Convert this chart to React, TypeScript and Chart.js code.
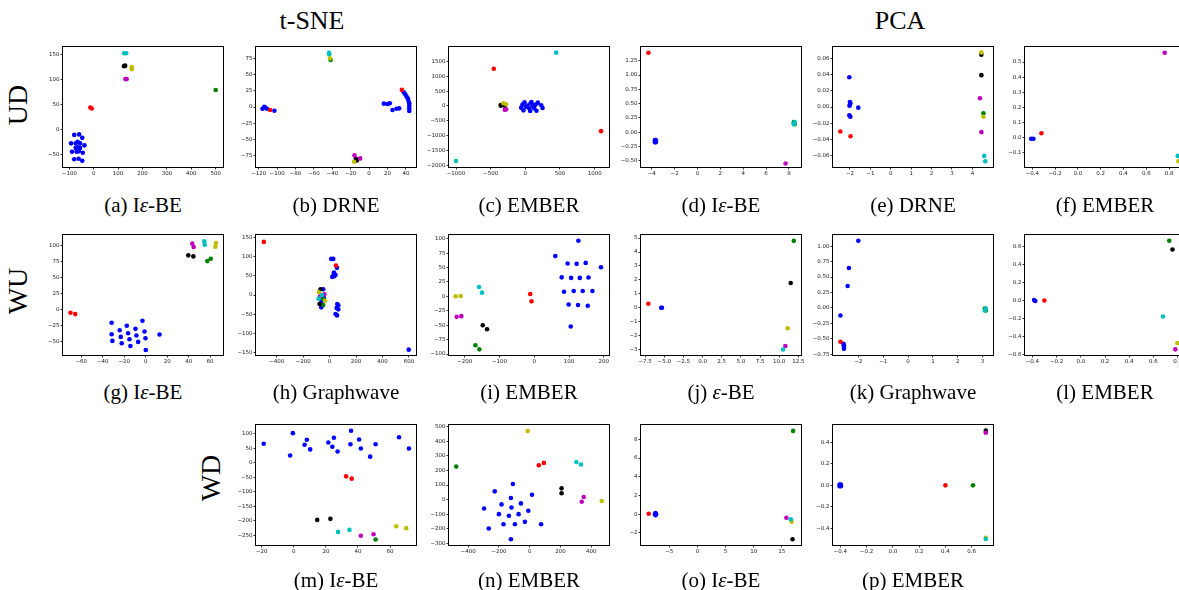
import React, { useEffect, useRef } from "react";
import { Chart, registerables } from "chart.js";
Chart.register(...registerables);

type P = [number, number];

// ---------- (a) t-SNE UD Iε-BE ----------
const aXTicks = [-100, 0, 100, 200, 300, 400, 500];
const aYTicks = [-50, 0, 50, 100, 150];
const aBlue: P[] = [[-80, -11], [-60, -10], [-47, -17], [-93, -28], [-74, -28], [-66, -25], [-56, -28], [-38, -32], [-74, -37], [-66, -36], [-56, -37], [-89, -45], [-70, -45], [-61, -44], [-45, -47], [-80, -60], [-62, -59], [-47, -63], [-70, -40], [-60, -40]];
const aRed: P[] = [[-14, 44], [-8, 42]];
const aCyan: P[] = [[125, 153], [133, 153]];
const aBlack: P[] = [[124, 127], [129, 128]];
const aYellow: P[] = [[156, 125], [156, 121]];
const aMagenta: P[] = [[130, 101], [135, 101]];
const aGreen: P[] = [[500, 79]];

// ---------- (b) t-SNE UD DRNE ----------
const bXTicks = [-120, -100, -80, -60, -40, -20, 0, 20, 40];
const bYTicks = [-75, -50, -25, 0, 25, 50, 75];
const bBlue: P[] = [[-114, 0.5], [-111, -2.6], [-116, -2.6], [-113, -1], [-103, -5.7], [16, 5.2], [20, 4.7], [22.5, 5.7], [25.4, -4.7], [29.8, -2.6], [32.7, -2.1], [37.8, 22.9], [39.3, 19.8], [40.7, 16.1], [42.2, 13], [42.9, 9.4], [43.7, 5.7], [43.7, 2.1], [43.7, -2.1], [43.7, -6.3]];
const bRed: P[] = [[-107.6, -4.7], [35.6, 26.6]];
const bCyan: P[] = [[-43.6, 83.9], [-43.4, 81.8]];
const bYellow: P[] = [[-42.6, 75.5], [-16.3, -84.9]];
const bGreen: P[] = [[-41.8, 72.9]];
const bMagenta: P[] = [[-15.9, -75], [-9.7, -79.7]];
const bBlack: P[] = [[-14.4, -80.2], [-13.3, -82.8]];

// ---------- (c) t-SNE UD EMBER ----------
const cXTicks = [-1000, -500, 0, 500, 1000];
const cYTicks = [-2000, -1500, -1000, -500, 0, 500, 1000, 1500];
const cBlue: P[] = [[-60, -58], [-41, 44], [-12, 123], [-27, -148], [27, 10], [55, -81], [75, 89], [89, 134], [104, 10], [70, -171], [128, -81], [147, 44], [181, 111], [161, -160], [229, 21], [248, -69], [10, -30], [120, 20]];
const cCyan: P[] = [[446, 1794], [-1000, -1853]];
const cRed: P[] = [[-455, 1252], [1092, -848]];
const cBlack: P[] = [[-354, 32], [-354, 10], [-296, 10]];
const cYellow: P[] = [[-316, 89], [-277, 55]];
const cMagenta: P[] = [[-296, -126], [-277, -115]];

// ---------- (d) PCA UD Iε-BE ----------
const dXTicks = [-4, -2, 0, 2, 4, 6, 8];
const dYTicks = [-0.5, -0.25, 0, 0.25, 0.5, 0.75, 1, 1.25];
const dRed: P[] = [[-4.29, 1.39]];
const dBlue: P[] = [[-3.72, -0.14], [-3.64, -0.14], [-3.72, -0.175], [-3.64, -0.175]];
const dGreen: P[] = [[8.43, 0.175], [8.51, 0.14]];
const dCyan: P[] = [[8.51, 0.175], [8.43, 0.14]];
const dMagenta: P[] = [[7.71, -0.55]];

// ---------- (e) PCA UD DRNE ----------
const eXTicks = [-2, -1, 0, 1, 2, 3, 4];
const eYTicks = [-0.06, -0.04, -0.02, 0, 0.02, 0.04, 0.06];
const eBlue: P[] = [[-2.03, 0.037], [-2, 0.0062], [-1.98, 0.0046], [-2, 0.0029], [-2.02, 0.0017], [-1.59, -0.0008], [-2.03, -0.0104], [-1.98, -0.012]];
const eRed: P[] = [[-2.47, -0.0304], [-1.97, -0.0363]];
const eYellow: P[] = [[4.44, 0.0679], [4.54, -0.0121]];
const eBlack: P[] = [[4.44, 0.065], [4.44, 0.0396]];
const eMagenta: P[] = [[4.37, 0.0108], [4.44, -0.0313]];
const eGreen: P[] = [[4.54, -0.0079]];
const eCyan: P[] = [[4.58, -0.0608], [4.63, -0.0675]];

// ---------- (f) PCA UD EMBER ----------
const fXTicks = [-0.4, -0.2, 0, 0.2, 0.4, 0.6, 0.8];
const fYTicks = [-0.1, 0, 0.1, 0.2, 0.3, 0.4, 0.5];
const fBlue: P[] = [[-0.41, -0.009], [-0.39, -0.009]];
const fRed: P[] = [[-0.32, 0.028]];
const fMagenta: P[] = [[0.762, 0.562]];
const fCyan: P[] = [[0.876, -0.122]];
const fYellow: P[] = [[0.882, -0.158]];

// ---------- (g) t-SNE WU Iε-BE ----------
const gXTicks = [-60, -40, -20, 0, 20, 40, 60];
const gYTicks = [-50, -25, 0, 25, 50, 75, 100];
const gBlue: P[] = [[-31.7, -20.3], [-3, -17.2], [-17.6, -25], [-9.5, -29.7], [-24.2, -31.8], [-31.7, -38], [-16.4, -36.5], [-8.6, -40.1], [-1.1, -33.9], [-23.2, -42.2], [-15.1, -45.8], [-31, -48.4], [-7, -50], [-22.3, -52.1], [-14.2, -56.3], [-0.2, -44.3], [12.9, -38.5], [0.1, -62.5]];
const gRed: P[] = [[-70, -4.7], [-65.6, -6.8]];
const gMagenta: P[] = [[43.4, 102.6], [44.7, 97.4]];
const gCyan: P[] = [[54.6, 106.3], [55, 101]];
const gYellow: P[] = [[65.5, 103.6], [64.9, 97.9]];
const gBlack: P[] = [[39.7, 84.4], [44.4, 82.8]];
const gGreen: P[] = [[57.4, 75.5], [60.6, 79.2]];

// ---------- (h) t-SNE WU Graphwave ----------
const hXTicks = [-400, -200, 0, 200, 400, 600];
const hYTicks = [-150, -100, -50, 0, 50, 100, 150];
const hRed: P[] = [[-497, 139], [48, 77]];
const hBlue: P[] = [[598, -143], [12.6, 94.5], [27.8, 94.5], [55.6, 71], [33, 58.6], [40, 53.3], [28, 50.7], [20, 47.2], [35, 49], [45, 52.5], [58, -23.6], [66, -27], [53, -34], [66, -37.6], [45, -49.8], [56, -53.4], [-48, 15], [-60, -16.6], [-63, -32.3], [-43, -8]];
const hBlack: P[] = [[-68, 15], [-76, -23.6]];
const hYellow: P[] = [[-81, 7], [-35, -15]];
const hMagenta: P[] = [[-40, 1.7], [-73, -4]];
const hCyan: P[] = [[-58, 0], [-83, -9.6]];
const hGreen: P[] = [[-48, -10.5], [-48, -26]];

// ---------- (i) t-SNE WU EMBER ----------
const iXTicks = [-200, -100, 0, 100, 200];
const iYTicks = [-100, -75, -50, -25, 0, 25, 50, 75, 100];
const iYellow: P[] = [[-226, 0], [-211.5, 0.6]];
const iCyan: P[] = [[-158.6, 16.3], [-150, 6.4]];
const iMagenta: P[] = [[-223, -35.5], [-209.6, -34.3]];
const iBlack: P[] = [[-148, -50], [-135.6, -57]];
const iGreen: P[] = [[-169, -84.9], [-157.7, -91.9]];
const iRed: P[] = [[-11.5, 4], [-7.7, -8.7]];
const iBlue: P[] = [[127, 96.5], [60.6, 69.8], [96, 57], [122, 56.4], [148, 58], [192, 50.6], [79, 33], [106, 32], [131, 32], [156, 32.6], [85.6, 8.1], [113.5, 9.3], [139.4, 9.3], [167.3, 9.3], [99, -14], [126, -15], [154, -16.3], [105, -52.3]];

// ---------- (j) PCA WU ε-BE ----------
const jXTicks = [-7.5, -5, -2.5, 0, 2.5, 5, 7.5, 10, 12.5];
const jYTicks = [-3, -2, -1, 0, 1, 2, 3, 4, 5];
const jRed: P[] = [[-7.07, 0.29]];
const jBlue: P[] = [[-5.4, 0], [-5.3, 0]];
const jGreen: P[] = [[11.9, 4.8]];
const jBlack: P[] = [[11.5, 1.78]];
const jYellow: P[] = [[11.1, -1.47]];
const jMagenta: P[] = [[10.8, -2.74]];
const jCyan: P[] = [[10.5, -3.0]];

// ---------- (k) PCA WU Graphwave ----------
const kXTicks = [-2, -1, 0, 1, 2, 3];
const kYTicks = [-0.75, -0.5, -0.25, 0, 0.25, 0.5, 0.75, 1];
const kBlue: P[] = [[-2, 1.087], [-2.38, 0.647], [-2.43, 0.355], [-2.72, -0.122], [-2.58, -0.603], [-2.58, -0.63], [-2.58, -0.66], [-2.6, -0.58]];
const kRed: P[] = [[-2.72, -0.545]];
const kGreen: P[] = [[3.09, -0.01], [3.13, -0.04]];
const kCyan: P[] = [[3.13, -0.01], [3.09, -0.04]];

// ---------- (l) PCA WU EMBER ----------
const lXTicks = [-0.4, -0.2, 0, 0.2, 0.4, 0.6, 0.8];
const lYTicks = [-0.6, -0.4, -0.2, 0, 0.2, 0.4, 0.6];
const lBlue: P[] = [[-0.385, 0.005], [-0.375, -0.005]];
const lRed: P[] = [[-0.3, 0]];
const lGreen: P[] = [[0.73, 0.667]];
const lBlack: P[] = [[0.757, 0.57]];
const lCyan: P[] = [[0.678, -0.178]];
const lYellow: P[] = [[0.797, -0.473]];
const lMagenta: P[] = [[0.78, -0.544]];

// ---------- (m) t-SNE WD Iε-BE ----------
const mXTicks = [-20, 0, 20, 40, 60];
const mYTicks = [-250, -200, -150, -100, -50, 0, 50, 100];
const mBlue: P[] = [[-18.8, 65.4], [-0.6, 102], [-2.3, 25], [6.7, 62], [8.1, 79], [10.2, 46], [21.5, 70], [24, 55], [25, 86], [27.3, 39], [35.7, 110], [35.3, 64], [40.7, 80], [41.8, 49], [47.6, 21], [51, 64], [65.6, 88], [71.8, 49]];
const mRed: P[] = [[32.6, -46.7], [36.1, -54.7]];
const mBlack: P[] = [[14.6, -196.6], [22.8, -193]];
const mCyan: P[] = [[27.6, -238], [34.7, -231]];
const mMagenta: P[] = [[41.8, -251], [49.7, -246]];
const mGreen: P[] = [[51, -264]];
const mYellow: P[] = [[63.9, -218.5], [70.1, -225]];

// ---------- (n) t-SNE WD EMBER ----------
const nXTicks = [-400, -200, 0, 200, 400];
const nYTicks = [-300, -200, -100, 0, 100, 200, 300, 400, 500];
const nBlue: P[] = [[-109, 107], [-227, 56.5], [15, 33.5], [-122, 10.6], [-183, -33], [-57, -26], [-296, -60.6], [-118, -53.7], [-9, -76.7], [-200, -99.7], [-135, -111], [-72, -99.7], [-31, -152.5], [-170, -168.6], [-96, -168.6], [74, -168.6], [-266, -198.4], [-122, -272]];
const nYellow: P[] = [[-13, 470], [468, -10]];
const nGreen: P[] = [[-477, 226]];
const nRed: P[] = [[59, 235.5], [92, 251.5]];
const nCyan: P[] = [[303, 258], [333, 240]];
const nBlack: P[] = [[207, 77], [207, 43]];
const nMagenta: P[] = [[351, 17.5], [338, -14.7]];

// ---------- (o) PCA WD Iε-BE ----------
const oXTicks = [-5, 0, 5, 10, 15];
const oYTicks = [-2, 0, 2, 4, 6, 8];
const oRed: P[] = [[-8.67, 0.04]];
const oBlue: P[] = [[-7.55, 0], [-7.35, 0], [-7.45, 0.12], [-7.45, -0.12]];
const oGreen: P[] = [[17, 8.9]];
const oMagenta: P[] = [[15.8, -0.39]];
const oCyan: P[] = [[16.6, -0.54]];
const oYellow: P[] = [[16.75, -0.82]];
const oBlack: P[] = [[16.9, -2.69]];

// ---------- (p) PCA WD EMBER ----------
const pXTicks = [-0.4, -0.2, 0, 0.2, 0.4, 0.6];
const pYTicks = [-0.4, -0.2, 0, 0.2, 0.4];
const pBlue: P[] = [[-0.405, 0.008], [-0.395, 0.008], [-0.405, -0.008], [-0.395, -0.008]];
const pRed: P[] = [[0.4, 0]];
const pGreen: P[] = [[0.61, 0]];
const pBlack: P[] = [[0.707, 0.51]];
const pMagenta: P[] = [[0.707, 0.49]];
const pYellow: P[] = [[0.707, -0.49]];
const pCyan: P[] = [[0.707, -0.5]];

// ---------- style ----------
const COLORS: Record<string, string> = {
  b: "#0000ff", r: "#ff0000", g: "#008000", c: "#00bfbf",
  m: "#bf00bf", y: "#bfbf00", k: "#000000",
};
const STACK = ["c", "m", "y", "k", "g", "r", "b"]; // top -> bottom

type Series = Partial<Record<string, P[]>>;
interface PanelCfg {
  col: number; row: number;
  xlim: [number, number]; ylim: [number, number];
  xt: number[]; yt: number[]; xd: number; yd: number;
  s: Series;
}

const COL_LEFT = [63, 256, 449, 641, 833, 1025];
const ROW_TOP = [47, 235, 425];
const BOX_W = 160;
const BOX_H = 120;

const PANELS: PanelCfg[] = [
  { col: 0, row: 0, xlim: [-126, 530], ylim: [-75.5, 165.5], xt: aXTicks, yt: aYTicks, xd: 0, yd: 0,
    s: { b: aBlue, r: aRed, c: aCyan, k: aBlack, y: aYellow, m: aMagenta, g: aGreen } },
  { col: 1, row: 0, xlim: [-123, 51], ylim: [-93, 93], xt: bXTicks, yt: bYTicks, xd: 0, yd: 0,
    s: { b: bBlue, r: bRed, c: bCyan, y: bYellow, g: bGreen, m: bMagenta, k: bBlack } },
  { col: 2, row: 0, xlim: [-1101, 1207], ylim: [-2056, 1985], xt: cXTicks, yt: cYTicks, xd: 0, yd: 0,
    s: { b: cBlue, c: cCyan, r: cRed, k: cBlack, y: cYellow, m: cMagenta } },
  { col: 3, row: 0, xlim: [-4.94, 9.06], ylim: [-0.61, 1.49], xt: dXTicks, yt: dYTicks, xd: 0, yd: 2,
    s: { r: dRed, b: dBlue, g: dGreen, c: dCyan, m: dMagenta } },
  { col: 4, row: 0, xlim: [-2.83, 5.01], ylim: [-0.0746, 0.0746], xt: eXTicks, yt: eYTicks, xd: 0, yd: 2,
    s: { b: eBlue, r: eRed, y: eYellow, k: eBlack, m: eMagenta, g: eGreen, c: eCyan } },
  { col: 5, row: 0, xlim: [-0.464, 0.94], ylim: [-0.196, 0.6], xt: fXTicks, yt: fYTicks, xd: 1, yd: 1,
    s: { b: fBlue, r: fRed, m: fMagenta, c: fCyan, y: fYellow } },
  { col: 0, row: 1, xlim: [-77, 72], ylim: [-70.3, 116], xt: gXTicks, yt: gYTicks, xd: 0, yd: 0,
    s: { b: gBlue, r: gRed, m: gMagenta, c: gCyan, y: gYellow, k: gBlack, g: gGreen } },
  { col: 1, row: 1, xlim: [-556, 653], ylim: [-157, 157], xt: hXTicks, yt: hYTicks, xd: 0, yd: 0,
    s: { r: hRed, b: hBlue, k: hBlack, y: hYellow, m: hMagenta, c: hCyan, g: hGreen } },
  { col: 2, row: 1, xlim: [-245, 215], ylim: [-101.7, 106.4], xt: iXTicks, yt: iYTicks, xd: 0, yd: 0,
    s: { y: iYellow, c: iCyan, m: iMagenta, k: iBlack, g: iGreen, r: iRed, b: iBlue } },
  { col: 3, row: 1, xlim: [-8.03, 12.84], ylim: [-3.39, 5.22], xt: jXTicks, yt: jYTicks, xd: 1, yd: 0,
    s: { r: jRed, b: jBlue, g: jGreen, k: jBlack, y: jYellow, m: jMagenta, c: jCyan } },
  { col: 4, row: 1, xlim: [-3.02, 3.42], ylim: [-0.76, 1.18], xt: kXTicks, yt: kYTicks, xd: 0, yd: 2,
    s: { b: kBlue, r: kRed, g: kGreen, c: kCyan } },
  { col: 5, row: 1, xlim: [-0.46, 0.86], ylim: [-0.607, 0.731], xt: lXTicks, yt: lYTicks, xd: 1, yd: 1,
    s: { b: lBlue, r: lRed, g: lGreen, k: lBlack, c: lCyan, y: lYellow, m: lMagenta } },
  { col: 1, row: 2, xlim: [-23.6, 76.2], ylim: [-283, 130], xt: mXTicks, yt: mYTicks, xd: 0, yd: 0,
    s: { b: mBlue, r: mRed, k: mBlack, c: mCyan, m: mMagenta, g: mGreen, y: mYellow } },
  { col: 2, row: 2, xlim: [-524, 515], ylim: [-311, 511], xt: nXTicks, yt: nYTicks, xd: 0, yd: 0,
    s: { b: nBlue, y: nYellow, g: nGreen, r: nRed, c: nCyan, k: nBlack, m: nMagenta } },
  { col: 3, row: 2, xlim: [-10.03, 18.4], ylim: [-3.3, 9.53], xt: oXTicks, yt: oYTicks, xd: 0, yd: 0,
    s: { r: oRed, b: oBlue, g: oGreen, m: oMagenta, c: oCyan, y: oYellow, k: oBlack } },
  { col: 4, row: 2, xlim: [-0.455, 0.762], ylim: [-0.556, 0.5625], xt: pXTicks, yt: pYTicks, xd: 1, yd: 1,
    s: { b: pBlue, r: pRed, g: pGreen, k: pBlack, m: pMagenta, y: pYellow, c: pCyan } },
];

const CAPTIONS: { col: number; row: number; label: string; method: string; italicPrefix: string }[] = [
  { col: 0, row: 0, label: "(a)", italicPrefix: "I", method: "-BE" },
  { col: 1, row: 0, label: "(b)", italicPrefix: "", method: "DRNE" },
  { col: 2, row: 0, label: "(c)", italicPrefix: "", method: "EMBER" },
  { col: 3, row: 0, label: "(d)", italicPrefix: "I", method: "-BE" },
  { col: 4, row: 0, label: "(e)", italicPrefix: "", method: "DRNE" },
  { col: 5, row: 0, label: "(f)", italicPrefix: "", method: "EMBER" },
  { col: 0, row: 1, label: "(g)", italicPrefix: "I", method: "-BE" },
  { col: 1, row: 1, label: "(h)", italicPrefix: "", method: "Graphwave" },
  { col: 2, row: 1, label: "(i)", italicPrefix: "", method: "EMBER" },
  { col: 3, row: 1, label: "(j)", italicPrefix: "ε", method: "-BE" },
  { col: 4, row: 1, label: "(k)", italicPrefix: "", method: "Graphwave" },
  { col: 5, row: 1, label: "(l)", italicPrefix: "", method: "EMBER" },
  { col: 1, row: 2, label: "(m)", italicPrefix: "I", method: "-BE" },
  { col: 2, row: 2, label: "(n)", italicPrefix: "", method: "EMBER" },
  { col: 3, row: 2, label: "(o)", italicPrefix: "I", method: "-BE" },
  { col: 4, row: 2, label: "(p)", italicPrefix: "", method: "EMBER" },
];
const CAPTION_Y = [205, 392, 580];

const PAD_L = 36, PAD_T = 6, PAD_R = 12, PAD_B = 16;
const SERIF = '"Liberation Serif", "Times New Roman", Times, serif';

function fmt(v: number, d: number): string {
  const s = Math.abs(v).toFixed(d);
  return (v < -1e-12 ? "\u2212" : "") + s;
}

const framePlugin = {
  id: "frame",
  afterDatasetsDraw(chart: any) {
    const { ctx, chartArea: a } = chart;
    ctx.save();
    ctx.strokeStyle = "#000";
    ctx.lineWidth = 1;
    ctx.strokeRect(Math.round(a.left) - 0.5, Math.round(a.top) - 0.5, a.right - a.left + 1, a.bottom - a.top + 1);
    ctx.restore();
  },
};

function Panel({ cfg }: { cfg: PanelCfg }) {
  const ref = useRef<HTMLCanvasElement | null>(null);
  const W = BOX_W + PAD_L + PAD_R;
  const H = BOX_H + PAD_T + PAD_B;
  useEffect(() => {
    if (!ref.current) return;
    const datasets = STACK.filter((k) => cfg.s[k]).map((k) => ({
      label: k,
      data: (cfg.s[k] as P[]).map(([x, y]) => ({ x, y })),
      backgroundColor: COLORS[k],
      borderColor: COLORS[k],
      borderWidth: 0,
      pointRadius: 2.3,
      pointHoverRadius: 2.3,
    }));
    const tickFont = { size: 5.5, family: "DejaVu Sans" };
    const gridCfg = { display: true, drawOnChartArea: false, drawTicks: true, tickLength: 2.5, color: "#000", lineWidth: 0.8 };
    const chart = new Chart(ref.current, {
      type: "scatter",
      data: { datasets },
      plugins: [framePlugin],
      options: {
        responsive: false,
        animation: false,
        devicePixelRatio: 1,
        layout: { padding: { left: 0, top: PAD_T, right: PAD_R, bottom: 0 } },
        plugins: { legend: { display: false }, tooltip: { enabled: false }, title: { display: false } },
        scales: {
          x: {
            type: "linear",
            min: cfg.xlim[0],
            max: cfg.xlim[1],
            grid: gridCfg,
            border: { display: false },
            ticks: { font: tickFont, color: "#222", padding: 1, maxRotation: 0, autoSkip: false,
              callback: (v: any) => fmt(Number(v), cfg.xd) },
            afterBuildTicks: (s: any) => {
              s.ticks = cfg.xt.filter((v) => v >= cfg.xlim[0] && v <= cfg.xlim[1]).map((v) => ({ value: v }));
            },
            afterFit: (s: any) => {
              s.height = PAD_B;
              s.paddingLeft = 0; s.paddingRight = 0; s.paddingTop = 0; s.paddingBottom = 0;
            },
          },
          y: {
            type: "linear",
            min: cfg.ylim[0],
            max: cfg.ylim[1],
            grid: gridCfg,
            border: { display: false },
            ticks: { font: tickFont, color: "#222", padding: 1, autoSkip: false,
              callback: (v: any) => fmt(Number(v), cfg.yd) },
            afterBuildTicks: (s: any) => {
              s.ticks = cfg.yt.filter((v) => v >= cfg.ylim[0] && v <= cfg.ylim[1]).map((v) => ({ value: v }));
            },
            afterFit: (s: any) => {
              s.width = PAD_L;
              s.paddingLeft = 0; s.paddingRight = 0; s.paddingTop = 0; s.paddingBottom = 0;
            },
          },
        },
      } as any,
    });
    return () => chart.destroy();
  }, [cfg]);
  return (
    <canvas
      ref={ref}
      width={W}
      height={H}
      style={{ position: "absolute", left: COL_LEFT[cfg.col] - PAD_L, top: ROW_TOP[cfg.row] - PAD_T, width: W, height: H }}
    />
  );
}

function Caption({ c }: { c: (typeof CAPTIONS)[number] }) {
  const cx = COL_LEFT[c.col] + BOX_W / 2;
  const cy = CAPTION_Y[c.row];
  let body: React.ReactNode;
  if (c.italicPrefix === "I") body = <>I<i>ε</i>{c.method}</>;
  else if (c.italicPrefix === "ε") body = <><i>ε</i>{c.method}</>;
  else body = c.method;
  return (
    <div style={{ position: "absolute", left: cx, top: cy, transform: "translate(-50%, -50%)", whiteSpace: "nowrap",
      fontFamily: SERIF, fontSize: 21, lineHeight: 1, color: "#000" }}>
      {c.label} {body}
    </div>
  );
}

function RowLabel({ text, x, y }: { text: string; x: number; y: number }) {
  return (
    <div style={{ position: "absolute", left: x, top: y, transform: "translate(-50%, -50%) rotate(-90deg)",
      whiteSpace: "nowrap", fontFamily: SERIF, fontSize: 28, lineHeight: 1, color: "#000" }}>
      {text}
    </div>
  );
}

function ColTitle({ text, x, y }: { text: string; x: number; y: number }) {
  return (
    <div style={{ position: "absolute", left: x, top: y, transform: "translate(-50%, -50%)",
      whiteSpace: "nowrap", fontFamily: SERIF, fontSize: 26, lineHeight: 1, color: "#000" }}>
      {text}
    </div>
  );
}

export default function App() {
  return (
    <div style={{ position: "fixed", left: 0, top: 0, width: 1179, height: 590, overflow: "hidden", background: "#fff" }}>
      <ColTitle text="t-SNE" x={312} y={21} />
      <ColTitle text="PCA" x={900} y={21} />
      <RowLabel text="UD" x={18} y={105} />
      <RowLabel text="WU" x={18} y={291} />
      <RowLabel text="WD" x={211} y={478} />
      {PANELS.map((p, i) => (
        <Panel key={i} cfg={p} />
      ))}
      {CAPTIONS.map((c, i) => (
        <Caption key={i} c={c} />
      ))}
    </div>
  );
}
